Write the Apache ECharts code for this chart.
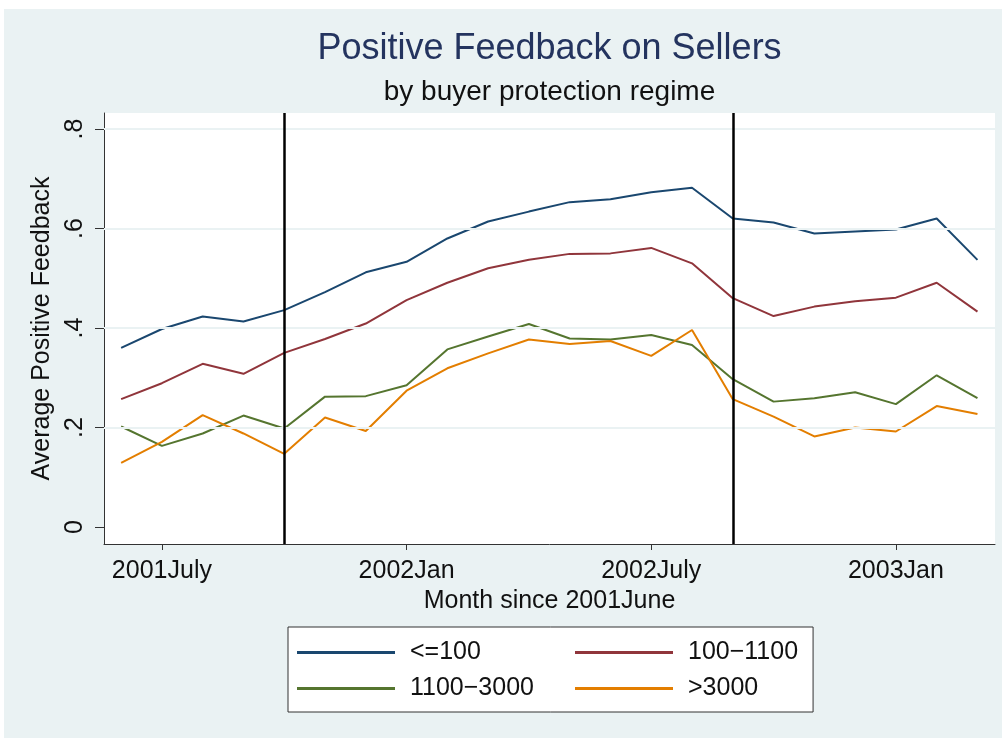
<!DOCTYPE html>
<html>
<head>
<meta charset="utf-8">
<script src="https://cdn.jsdelivr.net/npm/echarts@6/dist/echarts.min.js"></script>
<style>
  html, body { margin: 0; padding: 0; background: #fff; }
  #main { width: 1002px; height: 738px; }
</style>
</head>
<body>
<div id="main"></div>
<script>
// months since 2001 June (0 = 2001June)
var months = [0, 1, 2, 3, 4, 5, 6, 7, 8, 9, 10, 11, 12, 13, 14, 15, 16, 17, 18, 19, 20, 21];
var tickMonths = [1, 7, 13, 19];
var tickLabels = ['2001July', '2002Jan', '2002July', '2003Jan'];
var yTicks = [0, 0.2, 0.4, 0.6, 0.8];
var regimeBreaks = [4, 15];

var seriesNames = ['<=100', '100\u22121100', '1100\u22123000', '>3000'];
var le100 = [0.360, 0.398, 0.423, 0.413, 0.436, 0.472, 0.512, 0.533, 0.580, 0.614, 0.634, 0.653, 0.659, 0.673, 0.682, 0.620, 0.612, 0.590, 0.594, 0.598, 0.620, 0.537];
var s100to1100 = [0.257, 0.289, 0.328, 0.308, 0.350, 0.378, 0.409, 0.456, 0.491, 0.520, 0.537, 0.549, 0.550, 0.561, 0.530, 0.460, 0.424, 0.443, 0.454, 0.461, 0.491, 0.433];
var s1100to3000 = [0.202, 0.163, 0.188, 0.224, 0.198, 0.262, 0.263, 0.285, 0.357, 0.383, 0.408, 0.379, 0.377, 0.386, 0.366, 0.297, 0.252, 0.259, 0.271, 0.247, 0.305, 0.259];
var gt3000 = [0.129, 0.171, 0.225, 0.188, 0.147, 0.220, 0.193, 0.274, 0.319, 0.349, 0.377, 0.368, 0.374, 0.344, 0.396, 0.257, 0.222, 0.182, 0.200, 0.192, 0.243, 0.227];

var colors = ['#1a476f', '#90353b', '#55752f', '#e37e00'];
var font = '"Liberation Sans", Arial, sans-serif';

function pairs(vals) {
    return months.map(function (m, i) { return [m, vals[i]]; });
}

var dom = document.getElementById('main');
var myChart = echarts.init(dom);

var lineSeries = [le100, s100to1100, s1100to3000, gt3000].map(function (vals, i) {
    return {
        name: seriesNames[i],
        type: 'line',
        data: pairs(vals),
        symbol: 'none',
        z: 3,
        lineStyle: { width: 2, color: colors[i] },
        itemStyle: { color: colors[i] }
    };
});

var option = {
    backgroundColor: '#eaf2f3',
    animation: false,
    textStyle: { fontFamily: font },
    graphic: [
        { type: 'rect', shape: { x: 0, y: 0, width: 1002, height: 9 }, style: { fill: '#fff' }, silent: true },
        { type: 'rect', shape: { x: 0, y: 0, width: 4, height: 738 }, style: { fill: '#fff' }, silent: true },
        { type: 'text', x: 549.5, y: 49, style: { text: 'Positive Feedback on Sellers', font: '36px ' + font, fill: '#24345f', align: 'center', verticalAlign: 'middle' } },
        { type: 'text', x: 549.5, y: 92, style: { text: 'by buyer protection regime', font: '28px ' + font, fill: '#111', align: 'center', verticalAlign: 'middle' } }
    ],
    grid: {
        left: 104, right: 7, top: 113, bottom: 194,
        show: true, backgroundColor: '#fff', borderWidth: 0
    },
    legend: {
        data: seriesNames,
        left: 288, top: 627,
        width: 520,
        padding: [13, 15, 11, 9],
        itemGap: 11,
        icon: 'rect',
        itemWidth: 98,
        itemHeight: 3,
        backgroundColor: '#fff',
        borderColor: '#333',
        borderWidth: 1,
        borderRadius: 0,
        formatter: function (name) {
            var idx = seriesNames.indexOf(name);
            return (idx % 2 === 0 ? '{a|' : '{b|') + name + '}';
        },
        textStyle: {
            color: '#111',
            fontSize: 25,
            fontFamily: font,
            rich: {
                a: { width: 154, padding: [0, 0, 0, 10], fontSize: 25, lineHeight: 24, fontFamily: font, color: '#111' },
                b: { padding: [0, 0, 0, 10], fontSize: 25, lineHeight: 24, fontFamily: font, color: '#111' }
            }
        }
    },
    xAxis: {
        type: 'value',
        min: -0.42,
        max: 21.43,
        name: 'Month since 2001June',
        nameLocation: 'middle',
        nameGap: 41,
        nameTextStyle: { color: '#111', fontSize: 25, fontFamily: font },
        axisLine: { onZero: false, lineStyle: { color: '#333', width: 1 } },
        axisTick: { show: true, length: 6, customValues: tickMonths, lineStyle: { color: '#333' } },
        axisLabel: {
            customValues: tickMonths,
            margin: 15,
            color: '#111',
            fontSize: 25,
            fontFamily: font,
            formatter: function (v) {
                var i = tickMonths.indexOf(v);
                return i >= 0 ? tickLabels[i] : '';
            }
        },
        splitLine: { show: false }
    },
    yAxis: {
        type: 'value',
        min: -0.0342,
        max: 0.8322,
        name: 'Average Positive Feedback',
        nameLocation: 'middle',
        nameGap: 37,
        nameTextStyle: { color: '#111', fontSize: 25, fontFamily: font },
        axisLine: { show: true, onZero: false, lineStyle: { color: '#333', width: 1 } },
        axisTick: { show: true, length: 9, customValues: yTicks, lineStyle: { color: '#333' } },
        axisLabel: {
            customValues: yTicks,
            rotate: 90,
            margin: 16,
            color: '#111',
            fontSize: 25,
            fontFamily: font,
            formatter: function (v) {
                return v === 0 ? '0' : v.toFixed(1).replace(/^0/, '');
            }
        },
        splitLine: { show: false }
    },
    series: [
        {
            name: 'grid',
            type: 'line',
            data: [],
            z: 1,
            silent: true,
            markLine: {
                silent: true,
                symbol: 'none',
                label: { show: false },
                lineStyle: { color: '#eaf2f3', width: 2, type: 'solid' },
                data: yTicks.filter(function (t) { return t > 0; }).map(function (t) { return { yAxis: t }; })
            }
        },
        {
            name: 'breaks',
            type: 'line',
            data: [],
            z: 5,
            silent: true,
            markLine: {
                silent: true,
                symbol: 'none',
                label: { show: false },
                lineStyle: { color: '#000', width: 2.5, type: 'solid' },
                data: regimeBreaks.map(function (b) { return { xAxis: b }; })
            }
        }
    ].concat(lineSeries)
};

if (option && typeof option === 'object') {
    myChart.setOption(option, false);
}

window.addEventListener('resize', function () {
    myChart.resize();
});
</script>
</body>
</html>
